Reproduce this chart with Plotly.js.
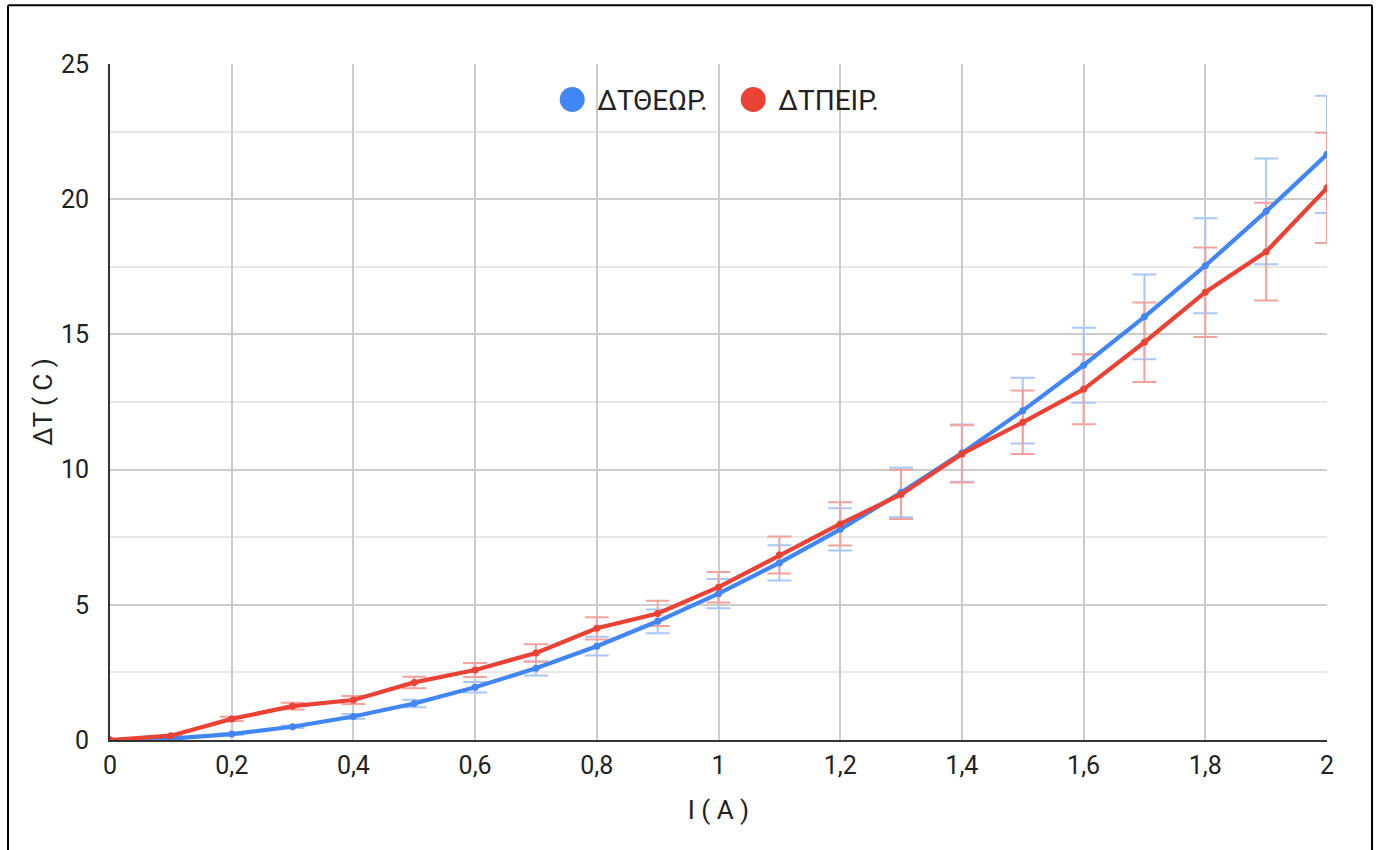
<!DOCTYPE html>
<html>
<head>
<meta charset="utf-8">
<script src="https://cdn.plot.ly/plotly-3.0.1.min.js"></script>
<style>
  html, body { margin: 0; padding: 0; background: #ffffff; }
  #chart { width: 1380px; height: 850px; }
</style>
</head>
<body>
<div id="chart"></div>
<script>
// Current I (A)
const currentA = [0, 0.1, 0.2, 0.3, 0.4, 0.5, 0.6, 0.7, 0.8, 0.9, 1.0, 1.1, 1.2, 1.3, 1.4, 1.5, 1.6, 1.7, 1.8, 1.9, 2.0];
// ΔΤ theoretical (°C)
const dTtheor = [0, 0.05, 0.22, 0.49, 0.87, 1.35, 1.95, 2.65, 3.47, 4.39, 5.41, 6.55, 7.79, 9.15, 10.61, 12.18, 13.86, 15.65, 17.54, 19.55, 21.66];
// ΔΤ experimental (°C)
const dTexper = [0, 0.16, 0.78, 1.25, 1.48, 2.13, 2.59, 3.22, 4.13, 4.68, 5.65, 6.84, 7.99, 9.08, 10.58, 11.75, 12.97, 14.71, 16.56, 18.06, 20.42];
// error bar percent
const errPercent = 10;
const seriesNames = ['ΔΤΘΕΩΡ.', 'ΔΤΠΕΙΡ.'];

const BLUE = '#4285F4', RED = '#EA4335';
const BLUE_ERR = '#a9c7fa', RED_ERR = '#f3a39c';
const FONT = 'Roboto, Arial, sans-serif';
const TXT = '#222222';

const traces = [
  // error bars first (beneath the lines)
  {
    x: currentA, y: dTtheor, type: 'scatter', mode: 'markers', showlegend: false, hoverinfo: 'skip',
    marker: {color: 'rgba(0,0,0,0)', size: 1},
    error_y: {type: 'percent', value: errPercent, color: BLUE_ERR, thickness: 2, width: 12}
  },
  {
    x: currentA, y: dTexper, type: 'scatter', mode: 'markers', showlegend: false, hoverinfo: 'skip',
    marker: {color: 'rgba(0,0,0,0)', size: 1},
    error_y: {type: 'percent', value: errPercent, color: RED_ERR, thickness: 2, width: 12}
  },
  {
    x: currentA, y: dTtheor, type: 'scatter', mode: 'lines+markers',
    name: seriesNames[0], showlegend: false,
    line: {color: BLUE, width: 4.2},
    marker: {color: BLUE, size: 7}
  },
  {
    x: currentA, y: dTexper, type: 'scatter', mode: 'lines+markers',
    name: seriesNames[1], showlegend: false,
    line: {color: RED, width: 4.2},
    marker: {color: RED, size: 7}
  },
  { x: [null], y: [null], type: 'scatter', mode: 'markers', name: seriesNames[0], marker: {color: BLUE, size: 16} },
  { x: [null], y: [null], type: 'scatter', mode: 'markers', name: seriesNames[1], marker: {color: RED, size: 16} }
];

const layout = {
  width: 1380, height: 850,
  margin: {l: 110, r: 53, t: 64, b: 110},
  paper_bgcolor: '#ffffff', plot_bgcolor: '#ffffff',
  separators: ', ',
  font: {family: FONT, color: TXT, size: 25},
  showlegend: true,
  legend: {
    orientation: 'h', x: 0.508, xanchor: 'center', y: 0.947, yanchor: 'middle',
    font: {family: FONT, size: 28, color: TXT},
    bgcolor: 'rgba(0,0,0,0)', itemsizing: 'trace', itemwidth: 40,
    entrywidth: 126, entrywidthmode: 'pixels'
  },
  xaxis: {
    range: [0, 2], dtick: 0.2, tick0: 0,
    showgrid: true, gridcolor: '#cccccc', gridwidth: 2,
    showline: true, linecolor: '#333333', linewidth: 2,
    zeroline: false, ticks: '', ticklabelstandoff: 2,
    tickfont: {family: FONT, size: 25, color: TXT},
    title: {text: 'I ( A )', font: {family: FONT, size: 26, color: TXT}, standoff: 22}
  },
  yaxis: {
    range: [0, 25], dtick: 5, tick0: 0,
    showgrid: true, gridcolor: '#cccccc', gridwidth: 2,
    minor: {dtick: 2.5, showgrid: true, gridcolor: '#e8e8e8', gridwidth: 2},
    showline: true, linecolor: '#333333', linewidth: 2,
    zeroline: false, ticks: '', ticklabelstandoff: 14,
    tickfont: {family: FONT, size: 25, color: TXT},
    title: {text: 'ΔT ( C )', font: {family: FONT, size: 26, color: TXT}, standoff: 1}
  },
  shapes: [
    {type: 'line', xref: 'paper', yref: 'paper', x0: -0.0838, x1: -0.0838, y0: 1.087, y1: -0.2, line: {color: '#000', width: 2}},
    {type: 'line', xref: 'paper', yref: 'paper', x0: -0.0838, x1: 1.037, y0: 1.087, y1: 1.087, line: {color: '#000', width: 2}},
    {type: 'line', xref: 'paper', yref: 'paper', x0: 1.037, x1: 1.037, y0: 1.087, y1: -0.2, line: {color: '#000', width: 2}}
  ]
};

Plotly.newPlot('chart', traces, layout, {displayModeBar: false, staticPlot: true}).then(function (gd) {
  // enlarge legend circles to match the reference's legend symbols (r = 12.5px)
  const r = 12.5;
  gd.querySelectorAll('.legend path.scatterpts').forEach(function (p) {
    p.setAttribute('d', 'M' + r + ',0A' + r + ',' + r + ' 0 1,1 0,-' + r + 'A' + r + ',' + r + ' 0 0,1 ' + r + ',0Z');
  });
});
</script>
</body>
</html>
